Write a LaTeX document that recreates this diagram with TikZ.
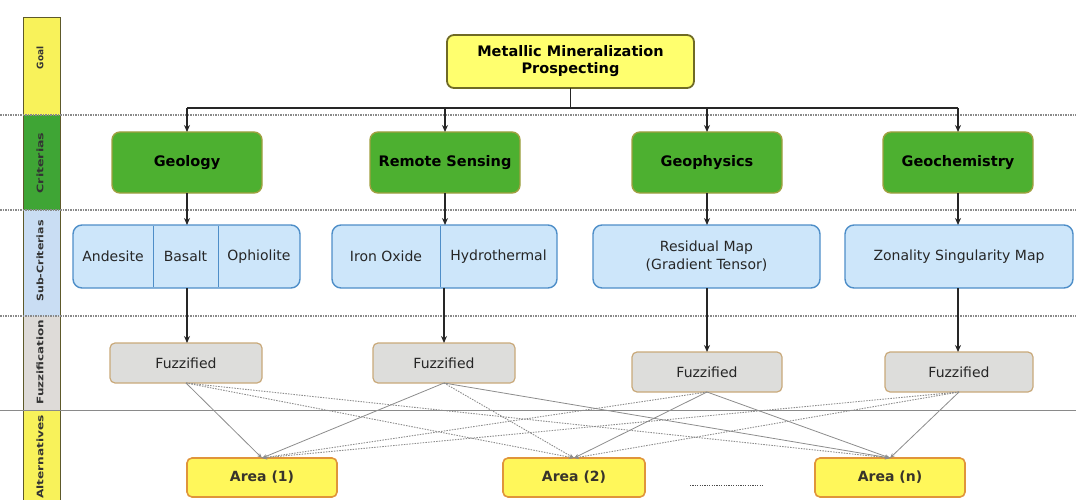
\documentclass[tikz,border=0pt]{standalone}
\usepackage{fontspec}
\setmainfont{DejaVu Sans}
\usetikzlibrary{arrows.meta}
\definecolor{bandY}{HTML}{F8F25A}
\definecolor{bandG}{HTML}{3FA535}
\definecolor{bandB}{HTML}{C9DDF3}
\definecolor{bandF}{HTML}{DEDBD8}
\definecolor{goalF}{HTML}{FFFF6E}
\definecolor{goalD}{HTML}{6F6A25}
\definecolor{critF}{HTML}{4DB030}
\definecolor{critD}{HTML}{A0A040}
\definecolor{subF}{HTML}{CDE6FA}
\definecolor{subD}{HTML}{4E8EC8}
\definecolor{fuzF}{HTML}{DDDDDB}
\definecolor{fuzD}{HTML}{C9A97A}
\definecolor{areaF}{HTML}{FFF75A}
\definecolor{areaD}{HTML}{E0953A}
\definecolor{sepC}{HTML}{8A8A8A}
\newcommand{\bandtxt}[2]{\scalebox{#1}[1]{#2}}
\begin{document}
\begin{tikzpicture}[x=1pt,y=-1pt,
  every node/.style={inner sep=0pt, outer sep=0pt},
  goalbox/.style={draw=goalD, line width=1.8pt, fill=goalF, rounded corners=7pt,
    minimum width=247pt, minimum height=53pt, align=center,
    font=\fontsize{14.5}{17}\selectfont\bfseries},
  critbox/.style={draw=critD, line width=1.4pt, fill=critF, rounded corners=8pt,
    minimum width=150pt, minimum height=61pt, font=\fontsize{14.5}{17}\selectfont\bfseries},
  subbox/.style={draw=subD, line width=1.4pt, fill=subF, rounded corners=9pt,
    minimum height=63pt, align=center, font=\fontsize{14}{18}\selectfont, text=black!85},
  subtext/.style={font=\fontsize{14}{17}\selectfont, text=black!85},
  fuzbox/.style={draw=fuzD, line width=1.2pt, fill=fuzF, rounded corners=5pt,
    minimum height=40pt, font=\fontsize{14}{17}\selectfont, text=black!85},
  areabox/.style={draw=areaD, line width=1.6pt, fill=areaF, rounded corners=5pt,
    minimum width=150pt, minimum height=39pt, font=\fontsize{14}{17}\selectfont\bfseries, text=black!80!olive},
  bandlabel/.style={rotate=90, font=\fontsize{9}{11}\selectfont\bfseries, text=black!80},
  sepdot/.style={sepC, line width=1.2pt, dash pattern=on 1.5pt off 1pt},
  tree/.style={line width=1.8pt, black!85},
  treearrow/.style={line width=1.6pt, black!85, -{Stealth[length=7pt,width=6pt]}},
  linksolid/.style={line width=0.8pt, black!45, -{Stealth[length=5pt,width=4pt]}},
  linkdot/.style={line width=0.9pt, black!45, dash pattern=on 1.5pt off 1.2pt, -{Stealth[length=5pt,width=4pt]}}
]
\useasboundingbox (0,0) rectangle (1076,500);
% left bands
\fill[bandY] (23,17) rectangle (60,115);
\fill[bandG] (23,115) rectangle (60,210);
\fill[bandB] (23,210) rectangle (60,316);
\fill[bandF] (23,316) rectangle (60,410);
\fill[bandY] (23,410) rectangle (60,500);
\draw[black!45!olive, line width=0.8pt] (23,500) -- (23,17) -- (60,17) -- (60,500);
\node[bandlabel] (lgoal) at (40,58) {\bandtxt{1.0}{Goal}};
\node[bandlabel] (lcrit) at (40,163) {\bandtxt{1.4}{Criterias}};
\node[bandlabel] (lsub) at (40,261) {\bandtxt{1.22}{Sub-Criterias}};
\node[bandlabel] (lfuz) at (40,362) {\bandtxt{1.33}{Fuzzification}};
\node[bandlabel] (lalt) at (40,457) {\bandtxt{1.35}{Alternatives}};
% separators
\draw[sepdot] (0,115) -- (1076,115);
\draw[sepdot] (0,210) -- (1076,210);
\draw[sepdot] (0,316) -- (1076,316);
\draw[sepC, line width=0.9pt] (0,410) -- (1076,410);
% goal
\node[goalbox] (goal) at (570.5,61.5) {Metallic Mineralization\\Prospecting};
% criteria
\node[critbox] (c1) at (187,162.5) {Geology};
\node[critbox] (c2) at (445,162.5) {Remote Sensing};
\node[critbox] (c3) at (707,162.5) {Geophysics};
\node[critbox] (c4) at (958,162.5) {Geochemistry};
% tree
\coordinate (jg) at (570.5,108);
\coordinate (j1) at (187,108);
\coordinate (j4) at (958,108);
\coordinate (j2) at (445,108);
\coordinate (j3) at (707,108);
\draw[tree] (goal.south) -- (jg);
\draw[tree] (j1) -- (j4);
\draw[treearrow] (j1) -- (c1.north);
\draw[treearrow] (j2) -- (c2.north);
\draw[treearrow] (j3) -- (c3.north);
\draw[treearrow] (j4) -- (c4.north);
% sub-criteria
\node[subbox, minimum width=227pt] (s1) at (186.5,256.5) {};
\node[subbox, minimum width=225pt] (s2) at (444.5,256.5) {};
\node[subbox, minimum width=227pt] (s3) at (706.5,256.5) {Residual Map\\(Gradient Tensor)};
\node[subbox, minimum width=228pt] (s4) at (959,256.5) {Zonality Singularity Map};
\draw[subD, line width=0.6pt] (153,226) -- (153,287);
\draw[subD, line width=0.6pt] (218,226) -- (218,287);
\draw[subD, line width=0.6pt] (440,226) -- (440,287);
\node[subtext] (t11) at (113,256.5) {Andesite};
\node[subtext] (t12) at (185.5,256.5) {Basalt};
\node[subtext] (t13) at (259,256.5) {Ophiolite};
\node[subtext] (t21) at (386,256.5) {Iron Oxide};
\node[subtext] (t22) at (498.5,256.5) {Hydrothermal};
\draw[treearrow] (c1.south) -- (187,225);
\draw[treearrow] (c2.south) -- (445,225);
\draw[treearrow] (c3.south) -- (707,225);
\draw[treearrow] (c4.south) -- (958,225);
% fuzzified
\node[fuzbox, minimum width=152pt] (f1) at (186,363) {Fuzzified};
\node[fuzbox, minimum width=142pt] (f2) at (444,363) {Fuzzified};
\node[fuzbox, minimum width=150pt] (f3) at (707,372) {Fuzzified};
\node[fuzbox, minimum width=148pt] (f4) at (959,372) {Fuzzified};
\draw[treearrow] (187,288) -- (187,343);
\draw[treearrow] (444,288) -- (444,343);
\draw[treearrow] (707,288) -- (707,352);
\draw[treearrow] (958,288) -- (958,352);
% areas
\node[areabox] (a1) at (262,477.5) {Area (1)};
\node[areabox, minimum width=142pt] (a2) at (574,477.5) {Area (2)};
\node[areabox] (an) at (890,477.5) {Area (n)};
\coordinate (d1) at (690,485);
\coordinate (d2) at (764,485);
\draw[black!70, line width=1pt, dash pattern=on 1.2pt off 1.2pt] (d1) -- (d2);
% links
\draw[linksolid] (f1.south) -- (a1.north);
\draw[linkdot] (f1.south) -- (a2.north);
\draw[linkdot] (f1.south) -- (an.north);
\draw[linksolid] (f2.south) -- (a1.north);
\draw[linkdot] (f2.south) -- (a2.north);
\draw[linksolid] (f2.south) -- (an.north);
\draw[linkdot] (f3.south) -- (a1.north);
\draw[linksolid] (f3.south) -- (a2.north);
\draw[linksolid] (f3.south) -- (an.north);
\draw[linkdot] (f4.south) -- (a1.north);
\draw[linkdot] (f4.south) -- (a2.north);
\draw[linksolid] (f4.south) -- (an.north);
\end{tikzpicture}
\end{document}
